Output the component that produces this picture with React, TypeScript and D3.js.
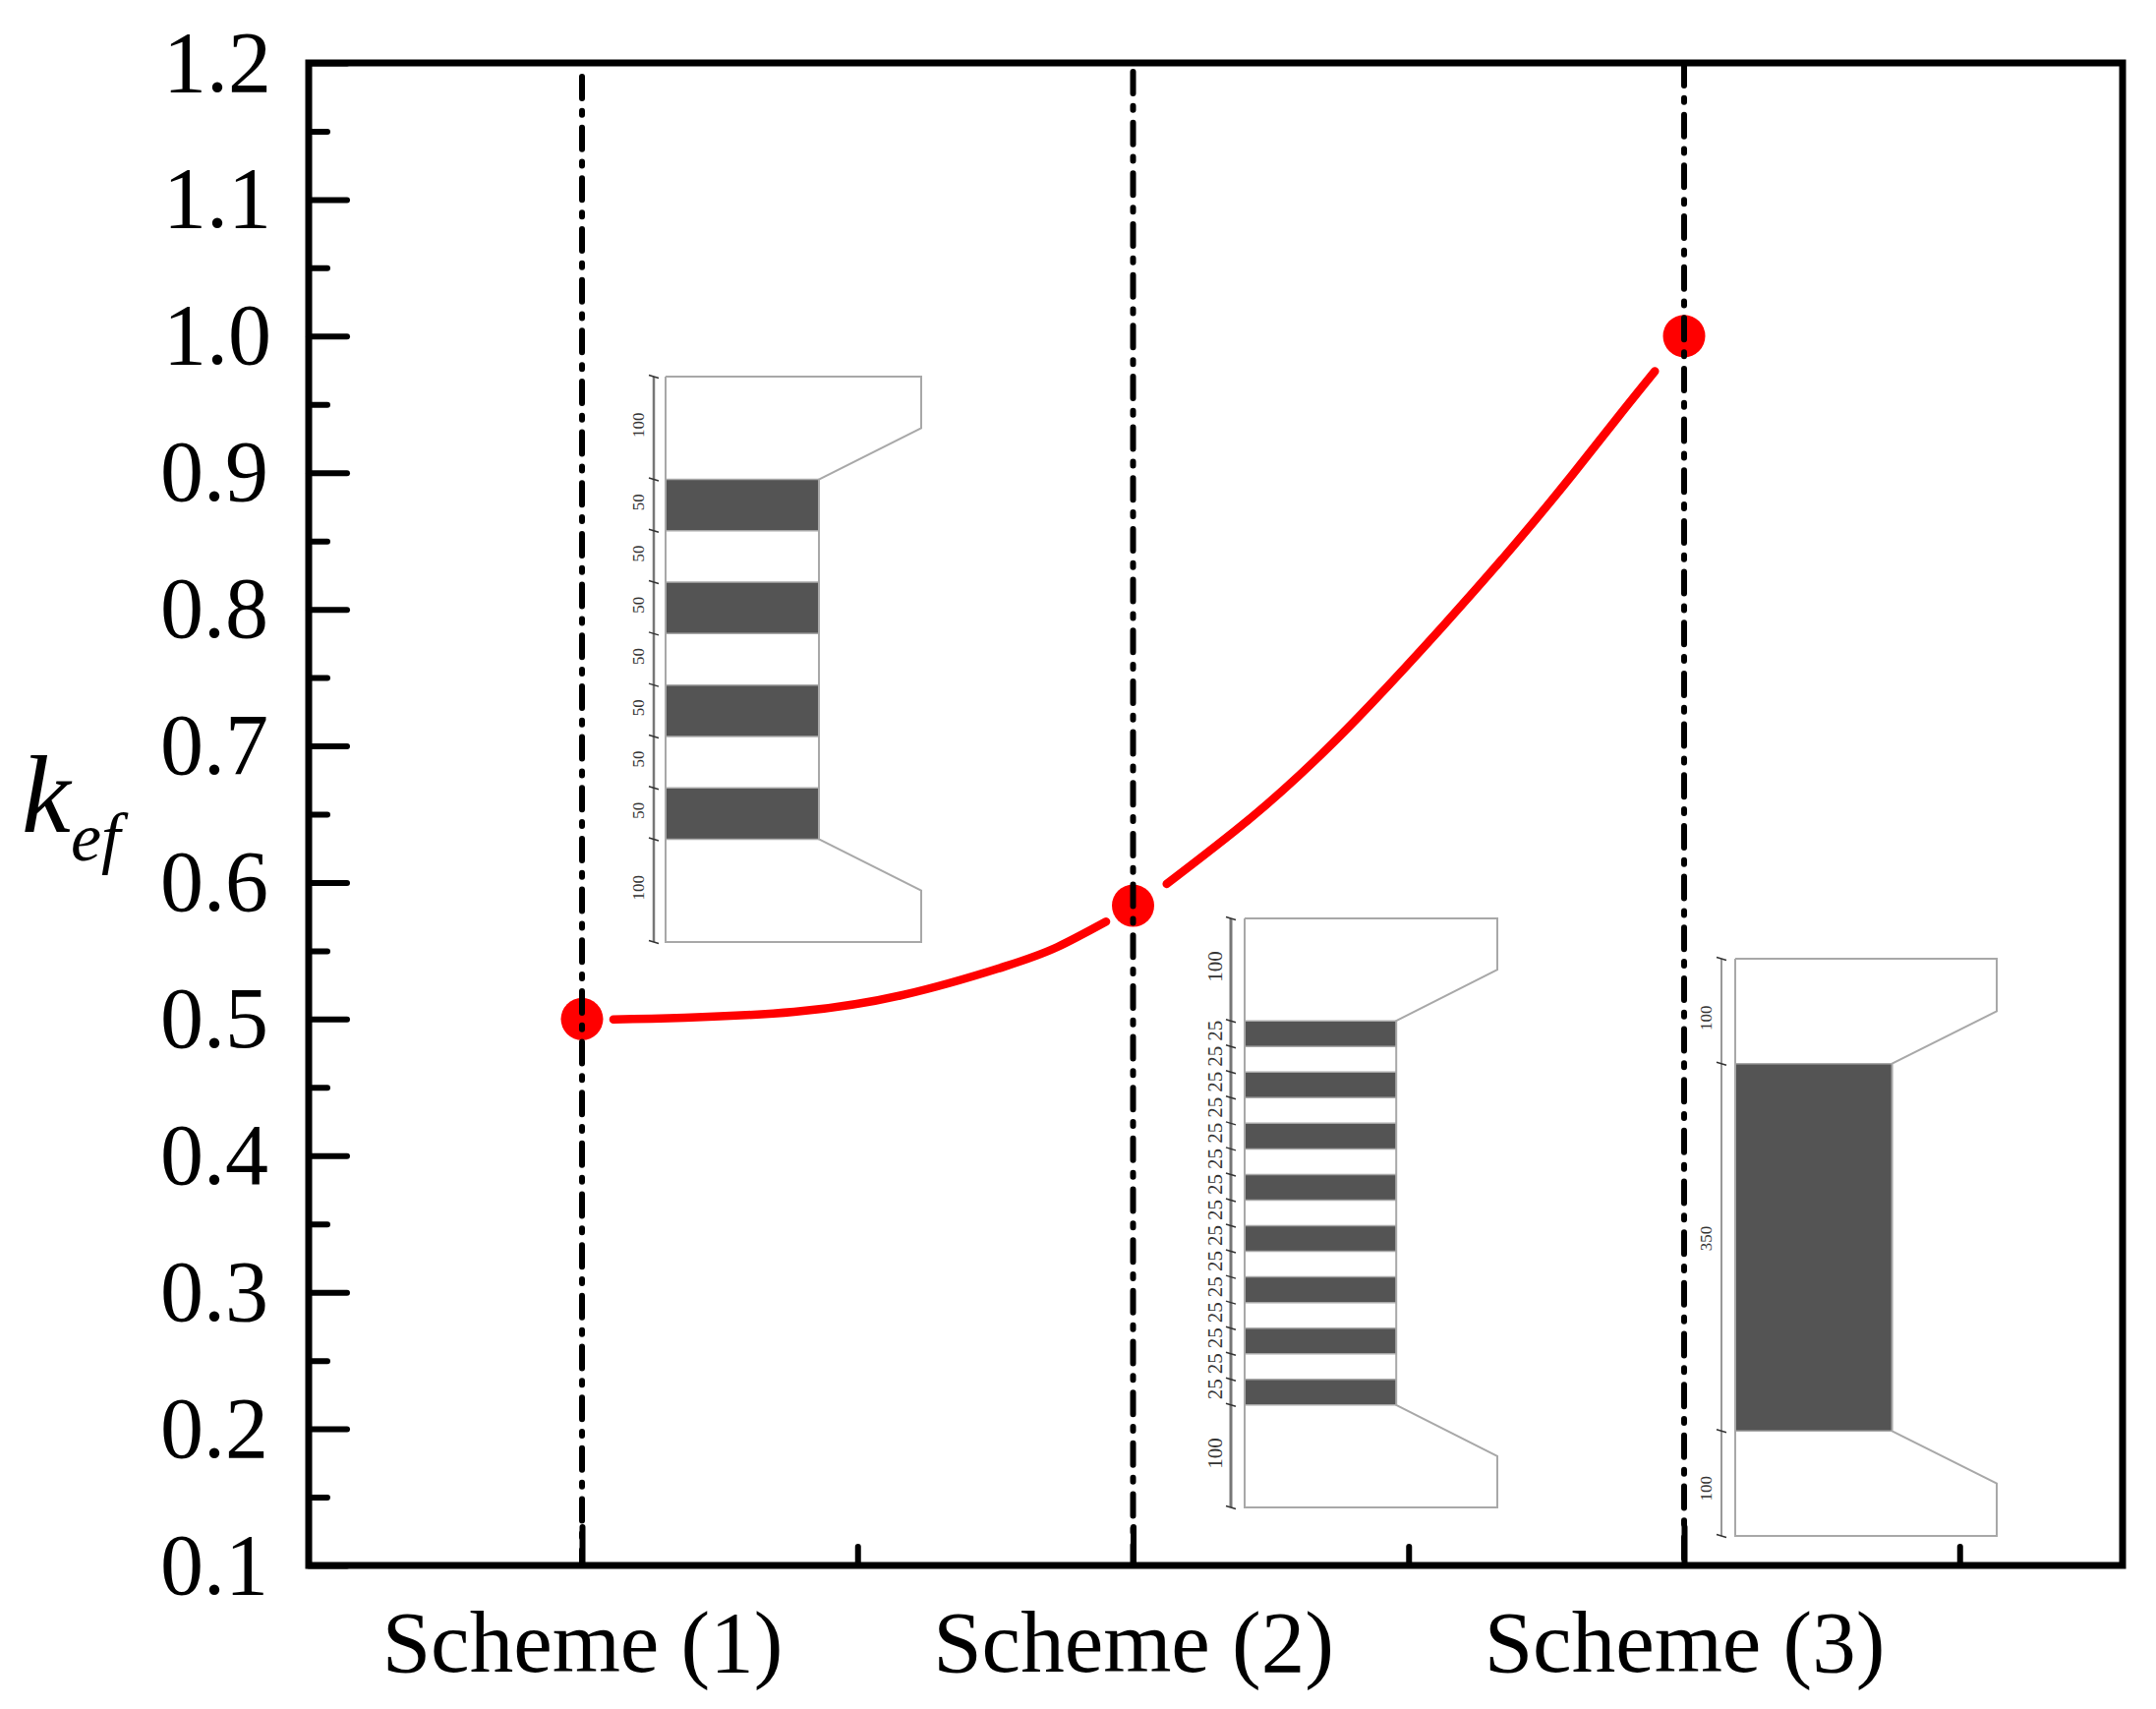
import React, { useRef, useEffect } from 'react';
import * as d3 from 'd3';

// Scheme positions and k_ef at each scheme
const schemes = [1, 2, 3];
const schemeLabels = ['Scheme (1)', 'Scheme (2)', 'Scheme (3)'];
const kefValues = [0.5, 0.583, 1.0];

// Red curve, broken around the middle marker
const curveX1 = [1.057, 1.186, 1.385, 1.584, 1.767, 1.863, 1.951];
const curveY1 = [0.4998, 0.501, 0.5053, 0.5178, 0.5385, 0.5528, 0.5713];
const curveX2 = [2.061, 2.21, 2.329, 2.43, 2.561, 2.691, 2.798, 2.881, 2.947];
const curveY2 = [0.5989, 0.646, 0.6889, 0.7299, 0.7871, 0.8467, 0.8989, 0.9412, 0.9743];

const yMajorTicks = [0.1, 0.2, 0.3, 0.4, 0.5, 0.6, 0.7, 0.8, 0.9, 1.0, 1.1, 1.2];
const yMinorTicks = [0.15, 0.25, 0.35, 0.45, 0.55, 0.65, 0.75, 0.85, 0.95, 1.05, 1.15];
const xMinorTicks = [1.5, 2.5, 3.5];

// Section heights in mm, top to bottom (flange, web strips, flange)
const section1 = [100, 50, 50, 50, 50, 50, 50, 50, 100];
const section2 = [100, 25, 25, 25, 25, 25, 25, 25, 25, 25, 25, 25, 25, 25, 25, 25, 100];
const section3 = [100, 350, 100];

const FONT = '"Liberation Serif", "Times New Roman", serif';

const drawSection = (svg, segments, box, opts) => {
  const total = d3.sum(segments);
  const sx = d3.scaleLinear().domain([0, 250]).range([box.left, box.right]);
  const sy = d3.scaleLinear().domain([0, total]).range([box.top, box.bottom]);
  const g = svg.append('g');
  const edges = d3.cumsum(segments);
  const starts = [0, ...edges];

  // strips: every other web segment is solid, starting with the first
  segments.slice(1, -1).forEach((s, i) => {
    if (i % 2 !== 0) return;
    g.append('rect')
      .attr('x', sx(0))
      .attr('y', sy(starts[i + 1]))
      .attr('width', sx(150) - sx(0))
      .attr('height', sy(s) - sy(0))
      .attr('fill', '#545454');
  });

  const webTop = segments[0];
  const webBottom = total - segments[segments.length - 1];
  const outline = d3.line().x(d => sx(d[0])).y(d => sy(d[1]));
  g.append('path')
    .attr('d', outline([
      [0, 0], [250, 0], [250, 50], [150, webTop], [150, webBottom],
      [250, total - 50], [250, total], [0, total], [0, 0],
    ]))
    .attr('fill', 'none')
    .attr('stroke', '#a8a8a8')
    .attr('stroke-width', 2);

  // strip separators
  starts.slice(1, -1).forEach(s => {
    g.append('line')
      .attr('x1', sx(0)).attr('x2', sx(150))
      .attr('y1', sy(s)).attr('y2', sy(s))
      .attr('stroke', '#a8a8a8')
      .attr('stroke-width', 1.5);
  });

  // dimension line on the left
  const dimX = box.left - opts.dimGap;
  g.append('line')
    .attr('x1', dimX).attr('x2', dimX)
    .attr('y1', sy(0)).attr('y2', sy(total))
    .attr('stroke', '#777')
    .attr('stroke-width', opts.dimWidth);
  starts.forEach(s => {
    g.append('line')
      .attr('x1', dimX - 5).attr('x2', dimX + 5)
      .attr('y1', sy(s) - 1.5).attr('y2', sy(s) + 1.5)
      .attr('stroke', '#333')
      .attr('stroke-width', 1.5);
  });
  segments.forEach((s, i) => {
    const shift = opts.labelShift ? opts.labelShift[i] : -3;
    const mid = sy(starts[i] + s / 2) + shift;
    g.append('text')
      .attr('transform', `translate(${opts.labelX},${mid}) rotate(-90)`)
      .attr('text-anchor', 'middle')
      .attr('font-family', FONT)
      .attr('font-size', opts.fontSize)
      .attr('fill', '#333')
      .text(s);
  });
};

const App = () => {
  const ref = useRef(null);

  useEffect(() => {
    const svg = d3.select(ref.current);
    svg.selectAll('*').remove();

    const left = 314;
    const right = 2159;
    const top = 64;
    const bottom = 1592;

    const x = d3.scaleLinear().domain([1, 3]).range([592, 1713]);
    const y = d3.scaleLinear().domain([0.1, 1.2]).range([bottom, top]);

    // sections go underneath the curve and the guide lines
    drawSection(svg, section1, { left: 677, right: 937, top: 383, bottom: 958 }, { dimGap: 12, dimWidth: 2.5, labelX: 655, fontSize: 17 });
    drawSection(svg, section2, { left: 1266, right: 1523, top: 934, bottom: 1533 }, { dimGap: 14, dimWidth: 3, labelX: 1243, fontSize: 21 });
    drawSection(svg, section3, { left: 1765, right: 2031, top: 975, bottom: 1562 }, { dimGap: 14, dimWidth: 1.5, labelX: 1741, fontSize: 17, labelShift: [7, -9, 5] });

    // red curve
    const line = d3.line()
      .x(d => x(d[0]))
      .y(d => y(d[1]))
      .curve(d3.curveNatural);
    [[curveX1, curveY1], [curveX2, curveY2]].forEach(([xs, ys]) => {
      svg.append('path')
        .attr('d', line(xs.map((v, i) => [v, ys[i]])))
        .attr('fill', 'none')
        .attr('stroke', '#ff0000')
        .attr('stroke-width', 8.5)
        .attr('stroke-linecap', 'round');
    });

    svg.selectAll('circle.point')
      .data(schemes)
      .enter()
      .append('circle')
      .attr('class', 'point')
      .attr('cx', d => x(d))
      .attr('cy', (d, i) => y(kefValues[i]))
      .attr('r', 21.5)
      .attr('fill', '#ff0000');

    // dash-dot guide lines, each one starts on its own phase
    const guideStarts = [75, 70, 62];
    svg.selectAll('line.guide')
      .data(schemes)
      .enter()
      .append('line')
      .attr('class', 'guide')
      .attr('x1', d => x(d))
      .attr('x2', d => x(d))
      .attr('y1', (d, i) => guideStarts[i] + 3)
      .attr('y2', bottom)
      .attr('stroke', '#000')
      .attr('stroke-width', 6)
      .attr('stroke-linecap', 'round')
      .attr('stroke-dasharray', '22 12.83 4 12.83');

    // axes
    const styleAxis = g => {
      g.select('.domain').remove();
      g.selectAll('line')
        .attr('stroke', '#000')
        .attr('stroke-width', 6)
        .attr('stroke-linecap', 'round');
      g.selectAll('text')
        .attr('font-family', FONT)
        .attr('font-size', 88)
        .attr('fill', '#000');
    };

    const yAxisMajor = svg.append('g')
      .attr('transform', `translate(${left},0)`)
      .call(d3.axisLeft(y).tickValues(yMajorTicks).tickSize(-39).tickPadding(0).tickFormat(d3.format('.1f')));
    styleAxis(yAxisMajor);
    yAxisMajor.selectAll('text')
      .attr('x', d => (d < 1 ? -41 : -38))
      .attr('dy', 28);

    const yAxisMinor = svg.append('g')
      .attr('transform', `translate(${left},0)`)
      .call(d3.axisLeft(y).tickValues(yMinorTicks).tickSize(-19).tickFormat(''));
    styleAxis(yAxisMinor);

    const xAxisMajor = svg.append('g')
      .attr('transform', `translate(0,${bottom})`)
      .call(d3.axisBottom(x).tickValues(schemes).tickSize(-39).tickFormat((d, i) => schemeLabels[i]));
    styleAxis(xAxisMajor);
    xAxisMajor.selectAll('text')
      .attr('font-size', 89)
      .attr('y', 108)
      .attr('dy', 0);

    const xAxisMinor = svg.append('g')
      .attr('transform', `translate(0,${bottom})`)
      .call(d3.axisBottom(x).tickValues(xMinorTicks).tickSize(-19).tickFormat(''));
    styleAxis(xAxisMinor);

    svg.append('rect')
      .attr('x', left)
      .attr('y', top)
      .attr('width', right - left)
      .attr('height', bottom - top)
      .attr('fill', 'none')
      .attr('stroke', '#000')
      .attr('stroke-width', 7);

    // y title
    const title = svg.append('text')
      .attr('font-family', FONT)
      .attr('font-style', 'italic')
      .attr('fill', '#000');
    title.append('tspan')
      .attr('x', 22)
      .attr('y', 846)
      .attr('font-size', 112)
      .text('k');
    title.append('tspan')
      .attr('x', 72)
      .attr('y', 875)
      .attr('font-size', 70)
      .text('ef');
  }, []);

  return (
    <svg
      ref={ref}
      width={2193}
      height={1738}
      style={{ position: 'absolute', left: 0, top: 0, background: '#fff' }}
    />
  );
};

export default App;
